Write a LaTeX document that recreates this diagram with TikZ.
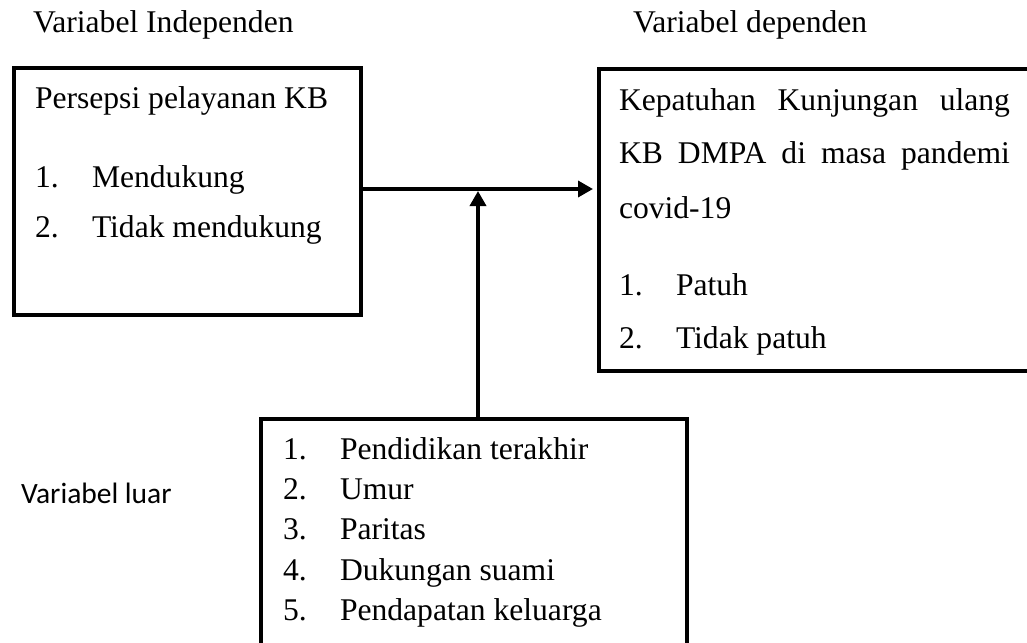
\documentclass[tikz,border=0pt]{standalone}
\usepackage{fontspec}
\setmainfont{Liberation Serif}
\newfontfamily\calib{Carlito}
\usetikzlibrary{arrows.meta}
\tikzset{
  boxnode/.style={draw, line width=4pt, inner sep=0pt, outer sep=0pt, line join=miter},
  txt/.style={anchor=base west, inner sep=0pt, outer sep=0pt, font=\fontsize{31.6}{38}\selectfont},
  conn/.style={line width=3.5pt, -{Triangle[length=15pt,width=16pt]}},
}
\begin{document}
\begin{tikzpicture}[x=1pt,y=-1pt]
\useasboundingbox (0,0) rectangle (1027,642);
\clip (0,0) rectangle (1027,642);
% headers
\node[txt] (hdrA) at (33,33) {Variabel Independen};
\node[txt] (hdrB) at (633,33) {Variabel dependen};
\node[txt, font=\calib\fontsize{29.5}{35}\selectfont] (luar) at (21,503) {Variabel luar};
% boxes
\node[boxnode, minimum width=347pt, minimum height=247pt] (left) at (187.5,191.5) {};
\node[boxnode, minimum width=441pt, minimum height=302pt] (right) at (819.5,220) {};
\node[boxnode, minimum width=426pt, minimum height=261pt] (bot) at (474,549.5) {};
% left box text
\node[txt] (l0) at (35,108) {Persepsi pelayanan KB};
\node[txt] (l1n) at (35,187) {1.};
\node[txt] (l1) at (92,187) {Mendukung};
\node[txt] (l2n) at (35,237) {2.};
\node[txt] (l2) at (92,237) {Tidak mendukung};
% right box text
\node[txt] (r0) at (619,110) {\makebox[391pt][s]{Kepatuhan Kunjungan ulang}};
\node[txt] (r1) at (619,163) {\makebox[391pt][s]{KB DMPA di masa pandemi}};
\node[txt] (r2) at (619,218) {covid-19};
\node[txt] (r3n) at (619,295) {1.};
\node[txt] (r3) at (676,295) {Patuh};
\node[txt] (r4n) at (619,348) {2.};
\node[txt] (r4) at (676,348) {Tidak patuh};
% bottom box text
\node[txt] (b1n) at (283,459.5) {1.};
\node[txt] (b1) at (340,459.5) {Pendidikan terakhir};
\node[txt] (b2n) at (283,499.7) {2.};
\node[txt] (b2) at (340,499.7) {Umur};
\node[txt] (b3n) at (283,539.8) {3.};
\node[txt] (b3) at (340,539.8) {Paritas};
\node[txt] (b4n) at (283,580) {4.};
\node[txt] (b4) at (340,580) {Dukungan suami};
\node[txt] (b5n) at (283,620) {5.};
\node[txt] (b5) at (340,620) {Pendapatan keluarga};
% connectors
\coordinate (j) at (478,189);
\draw[conn, shorten >=6pt] (left.east |- j) -- (right.west |- j);
\draw[conn, shorten >=2pt] (bot.north -| j) -- (j);
\end{tikzpicture}
\end{document}
